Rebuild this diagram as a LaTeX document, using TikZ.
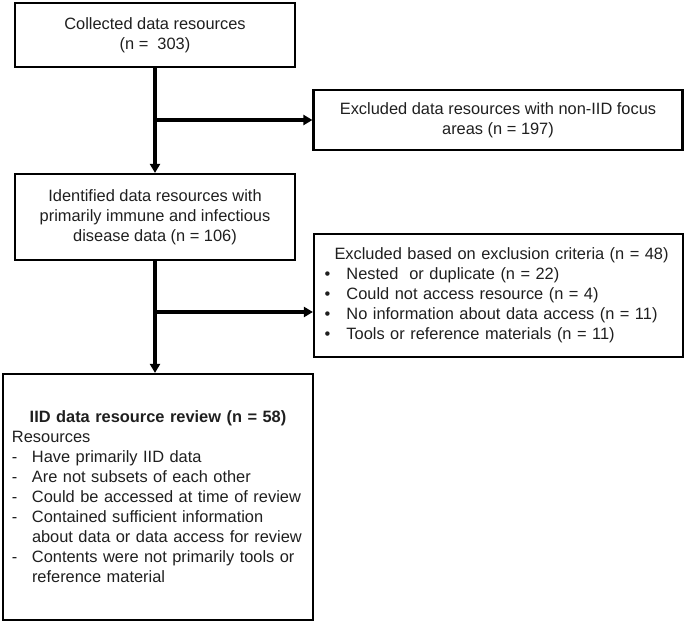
\documentclass[tikz,border=0pt]{standalone}
\usepackage{fontspec}
\setmainfont{Liberation Sans}
\usetikzlibrary{arrows.meta}

\newcommand{\bulletline}[1]{\makebox[28pt][l]{\hspace{6pt}\textbullet}#1}
\newcommand{\dashline}[1]{\makebox[25pt][l]{\hspace{5pt}-}#1}

\tikzset{
  box/.style={draw, line width=2.2pt, align=center, inner sep=0pt,
    font=\fontsize{16.4}{20}\selectfont, text=black!88},
  flow/.style={line width=3.2pt, -{Triangle[length=9pt,width=10pt]}}
}

\begin{document}
\begin{tikzpicture}[x=1pt,y=-1pt]
  \useasboundingbox (0,0) rectangle (685,625);
  % boxes
  \node[box, minimum width=280pt, minimum height=64pt] (collected) at (155,35)
    {Collected data resources\\(n =\ \ 303)};
  \node[box, minimum width=369pt, minimum height=60pt] (nonfocus) at (498,120)
    {Excluded data resources with non-IID focus\\areas (n = 197)};
  \node[box, minimum width=280pt, minimum height=86pt] (identified) at (155,217)
    {Identified data resources with\\primarily immune and infectious\\disease data (n = 106)};
  \node[box, minimum width=369pt, minimum height=123pt, text width=360pt, align=left] (criteria) at (498.5,295.5)
    {\hspace*{16pt}Excluded based on exclusion criteria (n = 48)\\
     \bulletline{Nested\ \ or duplicate (n = 22)}\\
     \bulletline{Could not access resource (n = 4)}\\
     \bulletline{No information about data access (n = 11)}\\
     \bulletline{Tools or reference materials (n = 11)}};
  \node[box, minimum width=310pt, minimum height=246pt, text width=302pt, align=left] (review) at (158,497)
    {\makebox[302pt][c]{\bfseries IID data resource review (n = 58)}\\
     \hspace*{5pt}Resources\\
     \dashline{Have primarily IID data}\\
     \dashline{Are not subsets of each other}\\
     \dashline{Could be accessed at time of review}\\
     \dashline{Contained sufficient information}\\
     \hspace*{25pt}about data or data access for review\\
     \dashline{Contents were not primarily tools or}\\
     \hspace*{25pt}reference material};
  % connectors
  \coordinate (split1) at (collected.south |- nonfocus.west);
  \coordinate (split2) at (155,312);
  \draw[flow] (collected.south) -- (identified.north);
  \draw[flow] (split1) -- (nonfocus.west);
  \draw[flow] (identified.south) -- (identified.south |- review.north);
  \draw[flow] (split2) -- (split2 -| criteria.west);
\end{tikzpicture}
\end{document}
